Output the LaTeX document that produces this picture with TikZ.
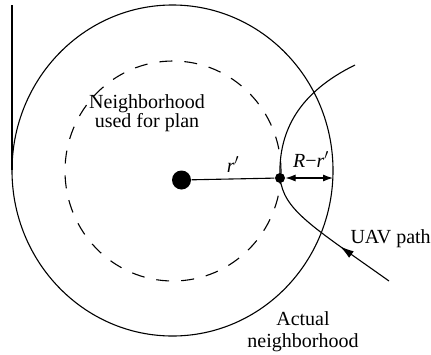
\documentclass[tikz,border=0pt]{standalone}
\usepackage{fontspec}
\setmainfont{Liberation Serif}
\usepackage{tikz}
\usetikzlibrary{arrows.meta,positioning,decorations.markings}

\begin{document}
\begin{tikzpicture}[x=1pt,y=-1pt,>={Latex[length=10pt,width=7pt]},line width=1.1pt,
  lbl/.style={inner sep=0pt,font=\fontsize{20}{19}\selectfont},
  dot/.style={circle,fill,inner sep=0pt,minimum size=#1}]
\useasboundingbox (0,0) rectangle (431,354);
% the two neighborhoods
\draw (172.5,170.5) ellipse [x radius=160.5,y radius=165.5];
\draw[dash pattern=on 13pt off 12pt] (173,171) ellipse [x radius=108,y radius=110];
\draw (12,5)--(12,170);
% uav and the point where the path meets the planning circle
\node[dot=19pt] (uav) at (181.5,180) {};
\node[dot=10pt] (cross) at (280,178) {};
\coordinate (rim) at (333,178);
\draw (uav)--(cross);
\draw[<->] (cross)--(rim);
% uav path
\coordinate (pathin) at (389,281);
\coordinate (pathout) at (355,65);
\draw[postaction={decorate},decoration={markings,
  mark=at position 60pt with {\arrow{Latex[length=14pt,width=8pt]}}}]
  (pathin) .. controls (310,225) and (284,210) .. (cross.center)
  .. controls (278,130) and (300,92) .. (pathout);
% labels
\node[lbl,align=center,anchor=north] (plan) at (147,94) {Neighborhood\\used for plan};
\node[lbl,align=center,anchor=north,font=\fontsize{20}{22}\selectfont] (actual) at (303,311) {Actual\\neighborhood};
\node[lbl,anchor=base west] (pathlbl) at (350,243) {UAV path};
\node[lbl,anchor=base] (rlbl) at (233,172) {\textit{r}$'$};
\node[lbl,anchor=base] (gaplbl) at (311,167) {\textit{R}−\textit{r}$'$};
\end{tikzpicture}
\end{document}
